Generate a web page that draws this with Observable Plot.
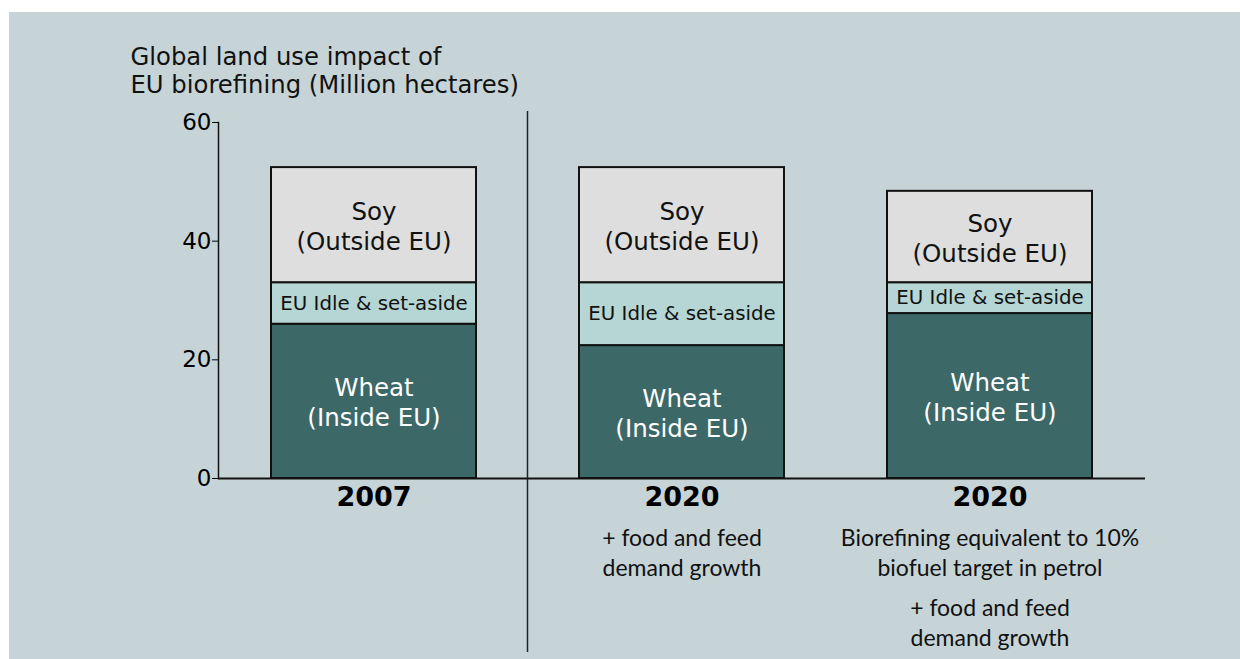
<!DOCTYPE html>
<html>
<head>
<meta charset="utf-8">
<script src="https://cdn.jsdelivr.net/npm/d3@7"></script>
<script src="https://cdn.jsdelivr.net/npm/@observablehq/plot@0.6"></script>
<style>
  html, body { margin: 0; padding: 0; background: #ffffff; }
  #bg { position: absolute; left: 9px; top: 12px; width: 1231px; height: 647px; background: #c6d4d8; }
  #chart { position: absolute; left: 0; top: 0; width: 1240px; height: 659px; }
</style>
</head>
<body>
<div id="bg"></div>
<div id="chart"></div>
<script>
// ---- data ----
const periods = ["2007", "2020 demand", "2020 biofuel"];
const yearLabels = ["2007", "2020", "2020"];
const segments = ["Wheat", "Idle", "Soy"];
const segmentLabels = ["Wheat\n(Inside EU)", "EU Idle & set-aside", "Soy\n(Outside EU)"];
const segmentColors = ["#3d6868", "#b5d6d4", "#dedede"];
const wheat = [26.0, 22.4, 27.8];
const idle = [7.0, 10.6, 5.2];
const soy = [19.4, 19.4, 15.4];
const notes1 = ["", "+ food and feed\ndemand growth", "Biorefining equivalent to 10%\nbiofuel target in petrol"];
const notes2 = ["", "", "+ food and feed\ndemand growth"];
const yTicks = [0, 20, 40, 60];
const titleText = "Global land use impact of\nEU biorefining (Million hectares)";

const series = [wheat, idle, soy];
const rows = [];
periods.forEach((p, i) => {
  segments.forEach((s, j) => {
    rows.push({period: p, segment: s, label: segmentLabels[j], value: series[j][i]});
  });
});
const noteRows = periods.map((p, i) => ({period: p, n1: notes1[i], n2: notes2[i]}));

const W = 1240, H = 659;
const noteFont = "Lato, 'Open Sans', sans-serif";
const plot = Plot.plot({
  width: W,
  height: H,
  marginLeft: 218,
  marginRight: 95,
  marginTop: 122,
  marginBottom: 181,
  style: {background: "transparent", fontFamily: "DejaVu Sans, Verdana, sans-serif", color: "#000", overflow: "visible"},
  x: {domain: periods, paddingInner: 0.333, paddingOuter: 0.1667, label: null},
  y: {domain: [0, 60], label: null},
  color: {domain: segments, range: segmentColors},
  marks: [
    Plot.barY(rows, {x: "period", y: "value", fill: "segment", stroke: "#111", strokeWidth: 2}),
    Plot.text(rows, Plot.stackY({x: "period", y: "value", text: d => d.segment === "Soy" ? d.label : null, fill: "#111", fontSize: 24.5, lineHeight: 1.22})),
    Plot.text(rows, Plot.stackY({x: "period", y: "value", text: d => d.segment === "Idle" ? d.label : null, fill: "#111", fontSize: 19.8})),
    Plot.text(rows, Plot.stackY({x: "period", y: "value", text: d => d.segment === "Wheat" ? d.label : null, fill: "#ffffff", fontSize: 24.5, lineHeight: 1.22})),
    Plot.ruleY([0], {stroke: "#111", strokeWidth: 2}),
    Plot.frame({anchor: "left", stroke: "#111", strokeWidth: 1.5}),
    Plot.axisY({ticks: yTicks, tickSize: 6, tickPadding: 1, fontSize: 23, label: null, tickFormat: d => String(d)}),
    Plot.axisX({tickSize: 0, tickPadding: 8, fontSize: 27, fontWeight: "bold", label: null, tickFormat: d => yearLabels[periods.indexOf(d)]}),
    Plot.text(noteRows, {x: "period", y: 0, text: "n1", lineAnchor: "top", dy: 46, fontSize: 23, lineHeight: 1.3, fontFamily: noteFont, fill: "#111"}),
    Plot.text(noteRows, {x: "period", y: 0, text: "n2", lineAnchor: "top", dy: 116, fontSize: 23, lineHeight: 1.3, fontFamily: noteFont, fill: "#111"}),
    Plot.text([titleText], {frameAnchor: "top-left", text: d => d, textAnchor: "start", lineAnchor: "top", dx: -88, dy: -77, fontSize: 24.3, lineHeight: 1.15, fill: "#111"})
  ]
});

// separator between the 2007 bar and the 2020 bars, derived from the x scale
const sx = plot.scale("x");
const sy = plot.scale("y");
const sepX = (sx.apply(periods[0]) + sx.bandwidth + sx.apply(periods[1])) / 2;
d3.select(plot).append("line")
  .attr("x1", sepX).attr("x2", sepX)
  .attr("y1", sy.apply(60) - 11).attr("y2", H - 7)
  .attr("stroke", "#222").attr("stroke-width", 1.5);

document.getElementById("chart").appendChild(plot);
</script>
</body>
</html>
